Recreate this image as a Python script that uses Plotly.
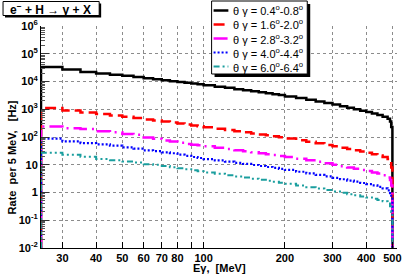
import plotly.graph_objects as go

# ---------------- data ----------------
bin_lo = [25, 30, 35, 40, 45, 50, 55, 60, 65, 70, 75, 80, 85, 90, 95,
          100, 110, 120, 130, 140, 150, 160, 170, 180, 190,
          200, 220, 240, 260, 280, 300, 320, 340, 360, 380, 400, 420, 440, 460,
          480, 490, 495]
e_max = 500
floor_val = 0.01

rate_04_08 = [33000, 27000, 22000, 19500, 17500, 16000, 14500, 13200, 12100, 11100, 10300, 9600, 9000, 8400, 7900,
              7300, 6500, 5900, 5300, 4850, 4450, 4100, 3800, 3500, 3250,
              2900, 2550, 2200, 1920, 1680, 1470, 1290, 1130, 1000, 890, 790, 700, 620, 540,
              450, 360, 230]
rate_16_20 = [1100, 900, 760, 670, 600, 540, 480, 430, 395, 365, 335, 305, 280, 260, 245,
              225, 200, 180, 162, 148, 135, 124, 115, 106, 98,
              88, 77, 67, 59, 52, 46, 41, 37, 33, 30, 27, 24, 21.5, 19,
              16, 13, 8]
rate_28_32 = [240, 205, 195, 160, 148, 128, 120, 95, 87, 75, 69, 62, 56, 53, 50,
              46, 41, 37, 33.5, 30.5, 28, 25.8, 24, 22.3, 20.8,
              19, 16.5, 14.5, 12.8, 11.3, 10, 8.9, 8, 7.2, 6.5, 5.9, 5.3, 4.8, 4.2,
              3.5, 2.8, 1.8]
rate_40_44 = [88, 70, 60, 54, 49, 42, 38, 33, 31, 28, 26, 23, 21, 19, 17.5,
              16, 14.3, 12.9, 11.7, 10.7, 9.8, 9.0, 8.3, 7.7, 7.1,
              6.5, 5.6, 4.9, 4.3, 3.8, 3.35, 3.0, 2.7, 2.45, 2.2, 2.0, 1.8, 1.6, 1.4,
              1.2, 0.95, 0.6]
rate_60_64 = [27, 23, 19.5, 16, 14.5, 13, 12, 10.5, 10, 9, 8.2, 7.5, 6.9, 6.3, 5.8,
              5.3, 4.7, 4.2, 3.8, 3.45, 3.15, 2.9, 2.65, 2.45, 2.25,
              2.05, 1.78, 1.56, 1.38, 1.22, 1.08, 0.97, 0.87, 0.79, 0.72, 0.66, 0.6, 0.54, 0.48,
              0.4, 0.32, 0.2]

series_names = ["θ γ = 0.4<sup>o</sup>-0.8<sup>o</sup>",
                "θ γ = 1.6<sup>o</sup>-2.0<sup>o</sup>",
                "θ γ = 2.8<sup>o</sup>-3.2<sup>o</sup>",
                "θ γ = 4.0<sup>o</sup>-4.4<sup>o</sup>",
                "θ γ = 6.0<sup>o</sup>-6.4<sup>o</sup>"]
series_vals = [rate_04_08, rate_16_20, rate_28_32, rate_40_44, rate_60_64]

x_tick_vals = [30, 40, 50, 60, 70, 80, 90, 100, 200, 300, 400, 500]
x_tick_text = ["30", "40", "50", "60", "70", "80", "", "100", "200", "300", "400", "500"]
y_tick_vals = [1e-2, 1e-1, 1, 10, 1e2, 1e3, 1e4, 1e5, 1e6]
y_tick_text = ["10<sup>-2</sup>", "10<sup>-1</sup>", "1", "10", "10<sup>2</sup>",
               "10<sup>3</sup>", "10<sup>4</sup>", "10<sup>5</sup>", "10<sup>6</sup>"]

title_text = "e<sup>−</sup> + H → γ + X"
x_title = "Eγ,  [MeV]"
y_title = "Rate  per 5 MeV,   [Hz]"

# ---------------- styles ----------------
styles = [
    dict(color="#000000", width=2.5, dash="solid"),
    dict(color="#ff0000", width=2.5, dash="11px,5px"),
    dict(color="#ff00ff", width=2.5, dash="14px,5px,2px,5px"),
    dict(color="#0000ff", width=2.2, dash="2px,2px"),
    dict(color="#1a9e9e", width=2.0, dash="6px,3px,2px,3px,2px,3px"),
]

W_FIG, H_FIG = 407, 276
L, R, T, B = 41, 402, 26, 248
PW, PH = R - L, B - T


def px(p):
    return (p - L) / PW


def py(p):
    return (B - p) / PH


FONT = "Liberation Sans, Arial, Helvetica, sans-serif"

fig = go.Figure()

# minor-tick helper axis (empty trace so the overlay subplot exists)
minor_vals = [m * 10 ** d for d in range(-2, 6) for m in range(2, 10)]
fig.add_trace(go.Scatter(x=[], y=[], yaxis="y2", showlegend=False, hoverinfo="skip"))

for name, vals, st in zip(series_names, series_vals, styles):
    xs = [bin_lo[0]] + bin_lo + [e_max]
    ys = [floor_val] + vals + [floor_val]
    fig.add_trace(go.Scatter(x=xs, y=ys, mode="lines", line_shape="hv",
                             line=st, name=name, showlegend=False))

fig.update_layout(
    width=W_FIG, height=H_FIG,
    margin=dict(l=L, r=W_FIG - R, t=T, b=H_FIG - B),
    paper_bgcolor="white", plot_bgcolor="white",
    font=dict(family=FONT, size=10, color="black"),
    xaxis=dict(type="log", range=[1.39794, 2.716], tickvals=x_tick_vals, ticktext=x_tick_text,
               ticks="inside", ticklen=6, tickcolor="black", tickwidth=1,
               showline=True, linecolor="black", linewidth=1, mirror=False,
               showgrid=True, gridcolor="#8c8c8c", griddash="dot", gridwidth=1,
               zeroline=False, ticklabeloverflow="allow",
               tickfont=dict(family=FONT, size=11, weight="bold")),
    yaxis=dict(type="log", range=[-2, 6], tickvals=y_tick_vals, ticktext=y_tick_text,
               ticks="inside", ticklen=8, tickcolor="#333333", tickwidth=1,
               showline=True, linecolor="black", linewidth=1, mirror=False,
               showgrid=True, gridcolor="#8c8c8c", griddash="dot", gridwidth=1,
               zeroline=False, ticklabeloverflow="allow",
               tickfont=dict(family=FONT, size=11, weight="bold")),
    yaxis2=dict(type="log", range=[-2, 6], overlaying="y", side="left",
                tickvals=minor_vals, ticks="inside", ticklen=4, tickcolor="#555555",
                showticklabels=False, showgrid=False, showline=False, zeroline=False),
    showlegend=False,
)

shapes = []
annotations = []

# title box
shapes.append(dict(type="rect", xref="paper", yref="paper",
                   x0=px(4.5), x1=px(102), y0=py(17.5), y1=py(3.5),
                   fillcolor="black", line=dict(width=0), layer="above"))
shapes.append(dict(type="rect", xref="paper", yref="paper",
                   x0=px(2.5), x1=px(100), y0=py(15.5), y1=py(1.5),
                   fillcolor="white", line=dict(color="black", width=1), layer="above"))
annotations.append(dict(xref="paper", yref="paper", x=px(51), y=py(9),
                        text=title_text, showarrow=False, xanchor="center", yanchor="middle",
                        font=dict(family=FONT, size=12, weight="bold", color="black")))

# legend box
shapes.append(dict(type="rect", xref="paper", yref="paper",
                   x0=px(217), x1=px(314), y0=py(77), y1=py(4),
                   fillcolor="black", line=dict(width=0), layer="above"))
shapes.append(dict(type="rect", xref="paper", yref="paper",
                   x0=px(214), x1=px(311), y0=py(74), y1=py(1),
                   fillcolor="white", line=dict(color="black", width=1), layer="above"))
row_y = [10.5, 24.5, 38.5, 52.5, 66.5]
for ry, name, st in zip(row_y, series_names, styles):
    shapes.append(dict(type="line", xref="paper", yref="paper",
                       x0=px(216), x1=px(231), y0=py(ry), y1=py(ry),
                       line=dict(color=st["color"], width=st["width"], dash=st["dash"]),
                       layer="above"))
    annotations.append(dict(xref="paper", yref="paper", x=px(234), y=py(ry),
                            text=name, showarrow=False, xanchor="left", yanchor="middle",
                            font=dict(family=FONT, size=11, color="black")))

# axis titles
annotations.append(dict(xref="paper", yref="paper", x=px(222), y=py(275.5),
                        text=x_title, showarrow=False, xanchor="center", yanchor="bottom",
                        font=dict(family=FONT, size=11, weight="bold")))
annotations.append(dict(xref="paper", yref="paper", x=px(12), y=py(157),
                        text=y_title, showarrow=False, xanchor="center", yanchor="middle",
                        textangle=-90, font=dict(family=FONT, size=11, weight="bold")))

fig.update_layout(shapes=shapes, annotations=annotations)
fig.write_html("out.html",
               config={"displayModeBar": False},
               post_script="document.body.style.margin='0';document.body.style.padding='0';"
                           "document.body.style.overflow='hidden';")
